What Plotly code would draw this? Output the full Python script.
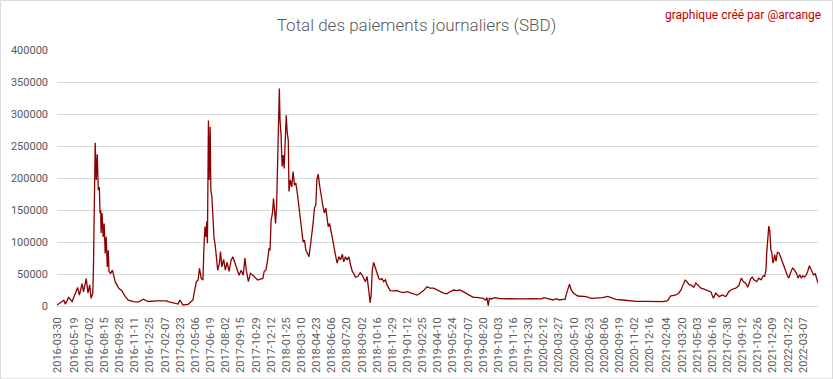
import plotly.graph_objects as go

# ---- data (date, daily total SBD) ----
dates = [
    "2016-03-30", "2016-04-19", "2016-04-23", "2016-05-03", "2016-05-13", "2016-05-22", "2016-05-29",
    "2016-06-03", "2016-06-11", "2016-06-15", "2016-06-23", "2016-06-28", "2016-07-03", "2016-07-07",
    "2016-07-12", "2016-07-14", "2016-07-16", "2016-07-19", "2016-07-22", "2016-07-25", "2016-07-28",
    "2016-07-31", "2016-08-02", "2016-08-04", "2016-08-05", "2016-08-08", "2016-08-11", "2016-08-14",
    "2016-08-17", "2016-08-20", "2016-08-23", "2016-08-26", "2016-08-28", "2016-09-02", "2016-09-07",
    "2016-09-15", "2016-09-25", "2016-10-04", "2016-10-14", "2016-10-23", "2016-11-07", "2016-11-21",
    "2016-12-06", "2016-12-20", "2017-01-13", "2017-02-11", "2017-02-16", "2017-03-17", "2017-03-22",
    "2017-03-27", "2017-03-31", "2017-04-15", "2017-04-29", "2017-05-04", "2017-05-09", "2017-05-14",
    "2017-05-18", "2017-05-23", "2017-05-28", "2017-05-31", "2017-06-03", "2017-06-06", "2017-06-08",
    "2017-06-10", "2017-06-13", "2017-06-15", "2017-06-18", "2017-06-20", "2017-06-23", "2017-06-26",
    "2017-06-29", "2017-07-03", "2017-07-06", "2017-07-10", "2017-07-15", "2017-07-18", "2017-07-22",
    "2017-07-27", "2017-08-01", "2017-08-06", "2017-08-12", "2017-08-18", "2017-08-23", "2017-08-29",
    "2017-09-04", "2017-09-10", "2017-09-16", "2017-09-22", "2017-09-27", "2017-10-01", "2017-10-07",
    "2017-10-13", "2017-10-20", "2017-10-26", "2017-11-03", "2017-11-11", "2017-11-18", "2017-11-22",
    "2017-11-27", "2017-12-02", "2017-12-06", "2017-12-09", "2017-12-12", "2017-12-16", "2017-12-19",
    "2017-12-22", "2017-12-25", "2017-12-28", "2017-12-31", "2018-01-03", "2018-01-05", "2018-01-07",
    "2018-01-10", "2018-01-13", "2018-01-16", "2018-01-19", "2018-01-22", "2018-01-25", "2018-01-28",
    "2018-01-31", "2018-02-02", "2018-02-06", "2018-02-10", "2018-02-14", "2018-02-18", "2018-02-22",
    "2018-02-27", "2018-03-03", "2018-03-07", "2018-03-11", "2018-03-15", "2018-03-19", "2018-03-23",
    "2018-03-28", "2018-04-01", "2018-04-05", "2018-04-09", "2018-04-13", "2018-04-17", "2018-04-21",
    "2018-04-24", "2018-04-28", "2018-05-01", "2018-05-04", "2018-05-08", "2018-05-12", "2018-05-16",
    "2018-05-20", "2018-05-23", "2018-05-27", "2018-05-31", "2018-06-04", "2018-06-08", "2018-06-13",
    "2018-06-18", "2018-06-22", "2018-06-27", "2018-07-02", "2018-07-07", "2018-07-11", "2018-07-16",
    "2018-07-21", "2018-07-26", "2018-07-31", "2018-08-05", "2018-08-09", "2018-08-14", "2018-08-21",
    "2018-08-28", "2018-09-03", "2018-09-07", "2018-09-12", "2018-09-17", "2018-09-20", "2018-09-23",
    "2018-09-26", "2018-09-29", "2018-10-02", "2018-10-06", "2018-10-11", "2018-10-16", "2018-10-21",
    "2018-10-26", "2018-10-30", "2018-11-04", "2018-11-09", "2018-11-14", "2018-11-19", "2018-11-23",
    "2018-12-03", "2018-12-13", "2018-12-22", "2019-01-01", "2019-01-11", "2019-01-20", "2019-01-30",
    "2019-02-09", "2019-02-18", "2019-02-28", "2019-03-10", "2019-03-19", "2019-03-29", "2019-04-08",
    "2019-04-17", "2019-04-27", "2019-05-06", "2019-05-16", "2019-05-26", "2019-06-04", "2019-06-14",
    "2019-06-23", "2019-07-03", "2019-07-13", "2019-07-22", "2019-08-01", "2019-08-11", "2019-08-20",
    "2019-08-27", "2019-08-31", "2019-09-04", "2019-09-07", "2019-09-13", "2019-09-23", "2019-10-08",
    "2019-11-01", "2019-11-25", "2019-12-19", "2020-01-12", "2020-02-05", "2020-02-13", "2020-02-24",
    "2020-03-10", "2020-03-19", "2020-03-29", "2020-04-08", "2020-04-14", "2020-04-20", "2020-04-27",
    "2020-05-02", "2020-05-09", "2020-05-21", "2020-06-04", "2020-06-14", "2020-06-29", "2020-07-18",
    "2020-08-01", "2020-08-16", "2020-08-26", "2020-09-09", "2020-09-28", "2020-10-17", "2020-11-06",
    "2020-12-05", "2021-01-03", "2021-01-22", "2021-02-04", "2021-02-09", "2021-02-14", "2021-02-21",
    "2021-03-02", "2021-03-10", "2021-03-17", "2021-03-23", "2021-03-29", "2021-04-03", "2021-04-10",
    "2021-04-15", "2021-04-23", "2021-04-29", "2021-05-06", "2021-05-14", "2021-05-23", "2021-06-02",
    "2021-06-12", "2021-06-19", "2021-06-26", "2021-07-06", "2021-07-15", "2021-07-25", "2021-08-03",
    "2021-08-13", "2021-08-23", "2021-09-01", "2021-09-08", "2021-09-14", "2021-09-21", "2021-09-27",
    "2021-10-05", "2021-10-10", "2021-10-15", "2021-10-23", "2021-10-29", "2021-11-05", "2021-11-11",
    "2021-11-15", "2021-11-19", "2021-11-21", "2021-11-24", "2021-11-27", "2021-11-30", "2021-12-03",
    "2021-12-06", "2021-12-09", "2021-12-12", "2021-12-14", "2021-12-18", "2021-12-22", "2021-12-27",
    "2021-12-31", "2022-01-05", "2022-01-09", "2022-01-14", "2022-01-19", "2022-01-24", "2022-01-29",
    "2022-02-04", "2022-02-09", "2022-02-15", "2022-02-20", "2022-02-25", "2022-03-02", "2022-03-06",
    "2022-03-11", "2022-03-16", "2022-03-20", "2022-03-25", "2022-03-30", "2022-04-02", "2022-04-06",
    "2022-04-11", "2022-04-16", "2022-04-19",
]

payouts = [
    1500, 9000, 3000, 13500, 7000, 20000, 29000,
    17000, 35000, 22000, 43000, 20000, 33000, 12000,
    20000, 61000, 134000, 255000, 197000, 237000, 181000,
    186000, 145000, 150000, 114000, 145000, 108000, 129000,
    82000, 108000, 61000, 87000, 54000, 51000, 56000,
    38000, 28000, 24000, 15000, 9000, 7000, 6000,
    10500, 7000, 8000, 8000, 6800, 3100, 9400,
    5700, 1600, 2600, 9400, 25000, 38000, 40600,
    59000, 43000, 40600, 92700, 124000, 108000, 132000,
    98000, 290000, 197000, 280000, 181000, 171000, 140000,
    108000, 93000, 72000, 56000, 67000, 85000, 61000,
    73000, 56000, 68000, 54000, 72000, 77000, 67000,
    59000, 48000, 56000, 48000, 75000, 56000, 38000,
    51000, 48000, 45000, 40600, 42000, 43000, 54000,
    56000, 72000, 90000, 87000, 134000, 145000, 168000,
    150000, 129000, 155000, 220000, 322000, 340000, 290000,
    267000, 218000, 236000, 215000, 259000, 298000, 270000,
    259000, 179000, 197000, 186000, 210000, 189000, 192000,
    173000, 155000, 134000, 114000, 100000, 103000, 87000,
    82000, 77000, 93000, 108000, 129000, 153000, 158000,
    197000, 206000, 192000, 179000, 168000, 155000, 145000,
    153000, 140000, 124000, 129000, 116000, 108000, 90000,
    77000, 67000, 77000, 72000, 81000, 69000, 77000,
    72000, 77000, 64000, 54000, 51000, 45000, 46000,
    52000, 48000, 43000, 38000, 46000, 30000, 20000,
    5000, 20000, 56000, 68000, 59000, 51000, 43000,
    41000, 43000, 38000, 41000, 33000, 28000, 24000,
    23500, 24000, 22000, 21000, 22500, 21000, 19000,
    17000, 20000, 24000, 30000, 28000, 28000, 25000,
    22500, 20000, 19000, 22500, 25000, 24000, 25000,
    22500, 19000, 15600, 13500, 13500, 13000, 12000,
    9400, 13000, 500, 12000, 11000, 13000, 11500,
    11000, 11500, 11000, 11500, 11000, 13000, 11000,
    9400, 11500, 9400, 10400, 10400, 22500, 34000,
    25000, 20000, 15600, 14600, 14600, 12000, 12000,
    13000, 15100, 13500, 10400, 9400, 8300, 7300,
    7300, 6800, 6800, 7800, 10400, 15600, 16700,
    17200, 20000, 25000, 33000, 40600, 38000, 33000,
    33000, 29400, 35700, 31500, 27800, 26200, 24100,
    22000, 12100, 20000, 14700, 17300, 14700, 22600,
    26200, 27800, 31500, 43500, 38300, 35700, 29400,
    42000, 45100, 40900, 38300, 43500, 40900, 47200,
    46200, 56700, 82900, 114400, 124900, 117000, 88100,
    82900, 67100, 72400, 80300, 69800, 83900, 82900,
    77600, 69800, 64500, 56700, 48800, 43500, 51400,
    59300, 56700, 51400, 43500, 48800, 43500, 47200,
    45100, 48800, 54000, 63000, 56700, 54000, 48800,
    50300, 42000, 35700,
]

tick_labels = [
    "2016-03-30", "2016-05-19", "2016-07-02", "2016-08-15", "2016-09-28", "2016-11-11", "2016-12-25",
    "2017-02-07", "2017-03-23", "2017-05-06", "2017-06-19", "2017-08-02", "2017-09-15", "2017-10-29",
    "2017-12-12", "2018-01-25", "2018-03-10", "2018-04-23", "2018-06-06", "2018-07-20", "2018-09-02",
    "2018-10-16", "2018-11-29", "2019-01-12", "2019-02-25", "2019-04-10", "2019-05-24", "2019-07-07",
    "2019-08-20", "2019-10-03", "2019-11-16", "2019-12-30", "2020-02-12", "2020-03-27", "2020-05-10",
    "2020-06-23", "2020-08-06", "2020-09-19", "2020-11-02", "2020-12-16", "2021-02-04", "2021-03-20",
    "2021-05-03", "2021-06-16", "2021-07-30", "2021-09-12", "2021-10-26", "2021-12-09", "2022-01-22",
    "2022-03-07",
]

title_text = "Total des paiements journaliers (SBD)"
credit_text = "graphique créé par @arcange"

FONT = "Roboto, 'Liberation Sans', sans-serif"
GRID = "#d9d9d9"
TEXT = "#595959"

fig = go.Figure()
fig.add_trace(go.Scatter(
    x=dates, y=payouts, mode="lines",
    line=dict(color="#8b0000", width=1.3),
    hoverinfo="x+y", showlegend=False,
))

fig.update_layout(
    width=833, height=379,
    margin=dict(l=57, r=15, t=50, b=73),
    paper_bgcolor="white", plot_bgcolor="white",
    font=dict(family=FONT, color=TEXT, size=11),
    title=dict(text=title_text, x=0.5, xref="container", y=0.935, yref="container",
               xanchor="center", yanchor="middle",
               font=dict(family=FONT, size=17, color=TEXT, weight=300)),
    annotations=[dict(text=credit_text, xref="paper", yref="paper", x=1.0066, y=1.137,
                      xanchor="right", yanchor="middle", showarrow=False,
                      font=dict(family=FONT, size=12, color="#c00000"))],
    shapes=[dict(type="rect", xref="paper", yref="paper",
                 x0=-0.0742, x1=1.019, y0=-0.2847, y1=1.1936,
                 line=dict(color=GRID, width=1), fillcolor="rgba(0,0,0,0)", layer="below")],
)

fig.update_xaxes(
    type="date", range=["2016-03-30", "2022-04-19"], automargin=False,
    tickmode="array", tickvals=tick_labels, ticktext=tick_labels,
    tickangle=-90, ticks="", showgrid=False, showline=True, linecolor=GRID, linewidth=1,
    tickfont=dict(family=FONT, size=11, color=TEXT), ticklabelstandoff=6,
)
fig.update_yaxes(
    range=[0, 400000], dtick=50000, tickformat="d", automargin=False,
    showgrid=True, gridcolor=GRID, gridwidth=1, zeroline=False, showline=False,
    ticks="", tickfont=dict(family=FONT, size=11, color=TEXT), ticklabelstandoff=8,
)

fig.write_html(
    "out.html",
    config={"displayModeBar": False},
    post_script="document.body.style.margin='0';document.body.style.overflow='hidden';",
)
